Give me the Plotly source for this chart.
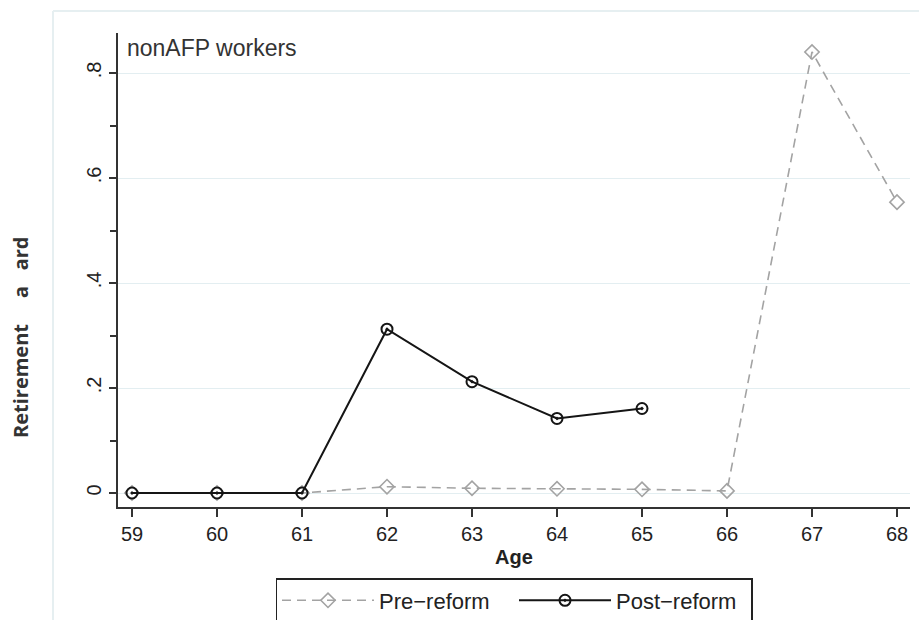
import plotly.graph_objects as go

ages = [59, 60, 61, 62, 63, 64, 65, 66, 67, 68]
pre_reform = [0.0, 0.0, 0.0, 0.012, 0.009, 0.008, 0.007, 0.004, 0.84, 0.554]
post_ages = [59, 60, 61, 62, 63, 64, 65]
post_reform = [0.0, 0.0, 0.0, 0.312, 0.212, 0.142, 0.161]
y_ticks = [0, 0.2, 0.4, 0.6, 0.8]
y_labels = ["0", ".2", ".4", ".6", ".8"]

W, H = 919, 620
L, R, T, B = 118, 9, 33, 113
pw, ph = W - L - R, H - T - B

def px(xp):
    return (xp - L) / pw

def py(yp):
    return (H - B - yp) / ph

fig = go.Figure()
fig.add_trace(go.Scatter(
    x=ages, y=pre_reform, name="Pre\u2212reform", mode="lines+markers",
    line=dict(color="#a3a3a3", width=1.6, dash="9px,6px"),
    marker=dict(symbol="diamond-open", size=11, color="#a3a3a3", line=dict(width=1.6)),
))
fig.add_trace(go.Scatter(
    x=post_ages, y=post_reform, name="Post\u2212reform", mode="lines+markers",
    line=dict(color="#151515", width=2),
    marker=dict(symbol="circle-open-dot", size=11, color="#151515", line=dict(width=2)),
))

font_fam = "Liberation Sans, Arial, sans-serif"
fig.update_layout(
    width=W, height=H,
    margin=dict(l=L, r=R, t=T, b=B, pad=0, autoexpand=False),
    paper_bgcolor="white", plot_bgcolor="white",
    font=dict(family=font_fam, size=20, color="#222"),
    showlegend=True,
    legend=dict(
        orientation="h", x=0.5, xanchor="center", y=py(578), yanchor="top",
        bordercolor="#222", borderwidth=1.5, bgcolor="white",
        font=dict(size=22, family=font_fam, color="#222"),
        itemwidth=92, entrywidth=130,
    ),
    xaxis=dict(
        range=[59 - 14 / 85, 68 + 13 / 85], tickmode="array", tickvals=ages,
        ticktext=[str(a) for a in ages], automargin=False,
        showgrid=False, zeroline=False, showline=True, linecolor="#333", linewidth=2,
        ticks="outside", ticklen=8, tickwidth=2, tickcolor="#333",
        tickfont=dict(size=20, family=font_fam, color="#222"),
        title=dict(text="<b>Age</b>", font=dict(size=20, family=font_fam, color="#222"), standoff=6),
    ),
    yaxis=dict(
        range=[-14 / 525, 0.8 + 40 / 525], tickmode="array", tickvals=y_ticks,
        ticktext=y_labels, tickangle=-90, automargin=False,
        showgrid=True, gridcolor="#e3eef1", gridwidth=1.2, zeroline=False,
        showline=True, linecolor="#333", linewidth=2,
        ticks="outside", ticklen=7, tickwidth=2, tickcolor="#333",
        tickfont=dict(size=20, family=font_fam, color="#222"),
        minor=dict(dtick=0.1, tick0=0, ticks="outside", ticklen=6, tickwidth=1.5,
                   tickcolor="#333", showgrid=False),
    ),
)

# light outer frame (graph region border)
fig.add_shape(type="line", xref="paper", yref="paper", x0=px(53), x1=px(919), y0=py(11), y1=py(11),
              line=dict(color="#e6eff1", width=2))
fig.add_shape(type="line", xref="paper", yref="paper", x0=px(53), x1=px(53), y0=py(11), y1=py(620),
              line=dict(color="#e6eff1", width=2))

fig.add_annotation(text="nonAFP workers", xref="paper", yref="paper", x=px(125), y=py(48),
                   xanchor="left", yanchor="middle", showarrow=False,
                   font=dict(size=23, family=font_fam, color="#333"))
fig.add_annotation(text="<b>Retirement\u00a0\u00a0\u00a0\u00a0\u00a0a\u00a0\u00a0\u00a0ard</b>", xref="paper", yref="paper",
                   x=px(20), y=py(338), xanchor="center", yanchor="middle", textangle=-90,
                   showarrow=False, font=dict(size=20, family="Open Sans, Noto Sans, sans-serif", color="#333"))

fig.write_html("out.html")
